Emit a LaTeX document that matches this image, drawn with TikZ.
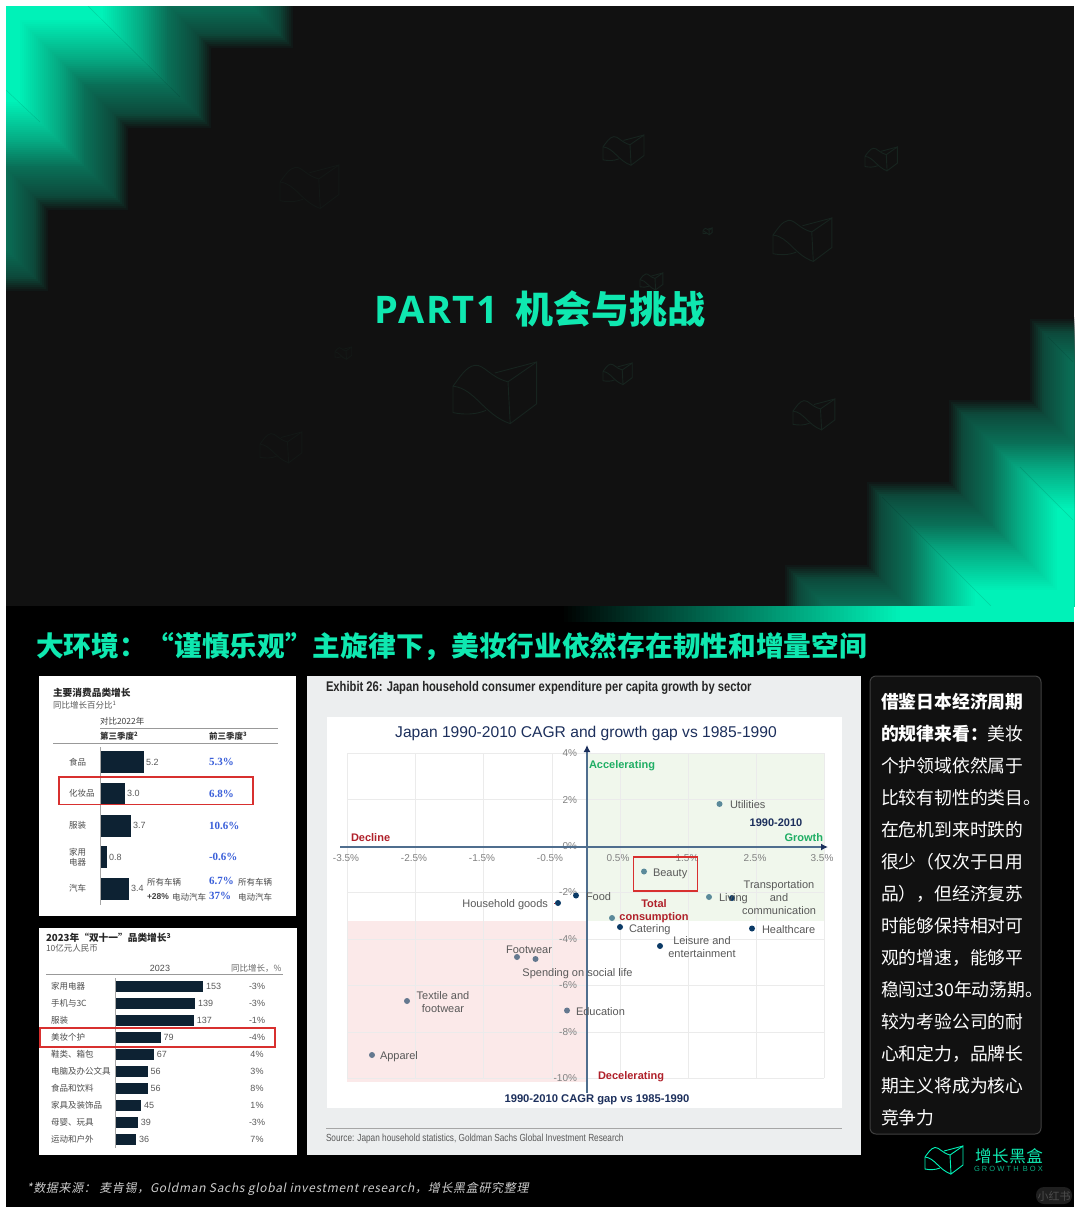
\documentclass[tikz,border=0pt]{standalone}
\usepackage{fontspec}
\usepackage{xcolor}
\setmainfont{Liberation Sans}
\setsansfont{Open Sans}
\newfontfamily\cjk{Noto Sans CJK SC}
\newfontfamily\cjkslant[FakeSlant=0.2,LetterSpace=5.6]{Noto Sans CJK SC}
\newfontfamily\narrowfont[FakeStretch=0.8]{Liberation Sans}
\newfontfamily\pctfont{Liberation Serif}
\usetikzlibrary{positioning,arrows.meta}
\newcommand{\fs}[1]{\fontsize{#1}{#1}\selectfont}
\definecolor{panel}{HTML}{111111}
\definecolor{mint}{HTML}{00F2B8}
\definecolor{titlemint}{HTML}{0FE8B0}
\definecolor{barnavy}{HTML}{0D2233}
\definecolor{pctblue}{HTML}{3A5FD9}
\definecolor{boxred}{HTML}{D8302F}
\definecolor{axisblue}{HTML}{4F6E8E}
\definecolor{plotnavy}{HTML}{1C2F5C}
\definecolor{dropred}{HTML}{B0202A}
\definecolor{risegreen}{HTML}{1FAE64}
\definecolor{wmdim}{HTML}{17241F}
\definecolor{wmfaint}{HTML}{131816}
\definecolor{dotnavy}{HTML}{0B3A66}
\definecolor{dotgreen}{HTML}{5B8A9A}
\definecolor{dotgrey}{HTML}{64788F}
\definecolor{greypanel}{HTML}{ECEEEF}
\definecolor{risefill}{HTML}{F0F7EC}
\definecolor{dropfill}{HTML}{FBE9E9}
\newcommand{\boxlogo}[4]{%
  \begin{scope}[shift={(#1,#2)},scale=#3,draw=#4,line width=.9pt]
    \draw (25,9) -- (38,0) -- (38,19) -- (26,28) -- cycle;
    \draw (0,11) .. controls (3,7) and (6,2) .. (10,1.5) .. controls (14,1) and (17,7) .. (25,9);
    \draw (19,5) -- (38,0);
    \draw (0,11) .. controls (10,12) and (14,24) .. (26,28);
    \draw (0,11) -- (0,23) .. controls (5,24) and (10,24) .. (15,22);
  \end{scope}}
\tikzset{
  every node/.style={inner sep=0pt,outer sep=0pt},
  declare function={glow(\t)=(\t<15)?(\t*1.67):((\t<44)?(25+(\t-15)*.59):((\t<70)?(42+(\t-44)*1.0):((\t<110)?(68+(\t-70)*.8):100)));},
  redbox/.style={draw=boxred,line width=1.1pt},
  catlabel/.style={anchor=west,text=black!70,font=\cjk\fontsize{8.5}{10.5}\selectfont},
  vallabel/.style={anchor=west,text=black!65,font=\fs{9}},
  pctlabel/.style={anchor=west,text=pctblue,font=\pctfont\bfseries\fs{11}},
  ticklabel/.style={text=black!50,font=\fs{10},text height=7pt,text depth=0pt},
  pointlabel/.style={text=black!65,font=\fontsize{11}{12.5}\selectfont,text height=8pt,text depth=0pt},
  stacklabel/.style={text=black!65,font=\fontsize{11}{12.5}\selectfont,align=center},
  boldlabel/.style={font=\bfseries\fs{11},text height=8pt,text depth=0pt},
  dotdark/.style={circle,fill=dotnavy,minimum size=6pt},
  dotteal/.style={circle,fill=dotgreen,minimum size=6pt},
  dotslate/.style={circle,fill=dotgrey,minimum size=6pt}
}
\begin{document}
\begin{tikzpicture}[x=1pt,y=-1pt]
  \useasboundingbox (0,0) rectangle (1080,1213);
  \fill[white] (0,0) rectangle (1080,1213);
  \fill[black] (6,6) rectangle (1074,1207);
  \fill[panel] (6,6) rectangle (1074,606);

  % stepped glow
  \begin{scope}
    \clip (6,6) rectangle (1074,606);
    \foreach \t in {0,2,...,112}{
      \pgfmathsetmacro\p{glow(\t)}
      \fill[mint!\p!panel,shift={(-\t,-\t)}] (-300,-300) -- (295,-300) -- (295,50) -- (213,50) -- (213,130)
        -- (130,130) -- (130,212) -- (50,212) -- (50,293) -- (-300,293) -- cycle;
      \fill[mint!\p!panel,shift={(\t,\t)}] (1400,900) -- (783,900) -- (783,563) -- (865,563) -- (865,480)
        -- (947,480) -- (947,398) -- (1028,398) -- (1028,317) -- (1400,317) -- cycle;
    }
    \foreach \ax/\ay/\bx/\by in {88/6/180/97,6/90/40/122,991/606/882/497,1048/337/1073/362,1020/467/1073/520}
      \draw[black,opacity=.12,line width=.5pt] (\ax,\ay) -- (\bx,\by);
  \end{scope}
  \foreach \bx in {560,564,...,896}{
    \pgfmathsetmacro\p{(\bx-560)/3.4}
    \fill[mint!\p!black] (\bx,606) rectangle (\bx+4.5,622);
  }
  \fill[mint] (900,606) rectangle (1074,622);

  % faint logos
  \foreach \lx/\ly/\ls/\lc in {603/135/1.08/wmdim,865/147/.85/wmdim,773/218/1.55/wmdim,703/228/.24/wmdim,640/273/.6/wmdim,603/363/.77/wmdim,793/399/1.1/wmdim,453/362/2.2/wmdim,280/165/1.55/wmfaint,260/432/1.1/wmfaint,335/347/.44/wmfaint}
    \boxlogo{\lx}{\ly}{\ls}{\lc};

  \node[text=titlemint] (parttitle) at (540,309) {\sffamily\bfseries\fs{38}\addfontfeature{LetterSpace=4}PART1\hspace{17pt}\cjk\bfseries\fs{38}机会与挑战};
  \node[anchor=west,text=titlemint] (subtitle) at (36,647) {\cjk\bfseries\fs{27.7}大环境：“谨慎乐观”主旋律下，美妆行业依然存在韧性和增量空间};

  % left chart, top
  \fill[white] (39,676) rectangle (296,916);
  \node[anchor=west,font=\cjk\bfseries\fs{9.7},text=black!85] (atitle) at (53,692.5) {主要消费品类增长};
  \node[anchor=west,font=\cjk\fs{8.5},text=black!65] (asub) at (53,705) {同比增长百分比\textsuperscript{1}};
  \node[anchor=west,font=\cjk\fs{8.5},text=black!75] (acompare) at (100,721) {对比2022年};
  \draw[black!40,line width=.8pt] (100,728) -- (278,728);
  \node[anchor=west,font=\cjk\bfseries\fs{8.5},text=black!80] (aqthree) at (100,736) {第三季度\textsuperscript{2}};
  \node[anchor=west,font=\cjk\bfseries\fs{8.5},text=black!80] (aqfirst) at (209,736) {前三季度\textsuperscript{3}};
  \draw[black!40,line width=.8pt] (53,743) -- (278,743);
  \foreach \rownum/\rowname/\ypos/\barend/\rowval in {1/食品/762/144/5.2,2/化妆品/793.5/125/3.0,3/服装/825.5/131/3.7,4/{家用\\电器}/857/107/0.8,5/汽车/888.5/129/3.4}{
    \fill[barnavy] (100,\ypos-11) rectangle (\barend,\ypos+11);
    \node[catlabel,align=left] (acat\rownum) at (69,\ypos) {\rowname};
    \node[vallabel] (aval\rownum) at (\barend+2,\ypos) {\rowval};
  }
  \foreach \rownum/\ypos/\rowpct in {1/762/5.3,2/793.5/6.8,3/825.5/10.6,4/857/-0.6,5/881/6.7,6/896/37}
    \node[pctlabel] (apct\rownum) at (209,\ypos) {\rowpct\%};
  \draw[black!35,line width=1pt] (100,747) -- (100,905);
  \node[catlabel] (aallone) at (147,882) {所有车辆};
  \node[catlabel] (aalltwo) at (238,882) {所有车辆};
  \node[anchor=west,font=\bfseries\fs{8.5},text=black!75] (aplus) at (147,897) {+28\%};
  \node[catlabel] (aevone) at (172,897) {电动汽车};
  \node[catlabel] (aevtwo) at (238,897) {电动汽车};
  \draw[redbox] (59,777) rectangle (253,804.5);

  % left chart, bottom
  \fill[white] (39,928) rectangle (297,1155);
  \node[anchor=west,font=\cjk\bfseries\fs{9.7},text=black!85] (btitle) at (46,938) {2023年“双十一”品类增长\textsuperscript{3}};
  \node[anchor=west,font=\cjk\fs{8.5},text=black!65] (bsub) at (46,948.5) {10亿元人民币};
  \node[font=\fs{9},text=black!70] (byear) at (160,968) {2023};
  \node[anchor=west,font=\cjk\fs{8.5},text=black!60] (bgrowth) at (231,968) {同比增长，\%};
  \draw[black!40,line width=.8pt] (46,974.5) -- (283,974.5);
  \foreach \rownum/\rowname/\ypos/\rowval/\rowpct in {1/家用电器/986/153/-3,2/手机与3C/1003/139/-3,3/服装/1020/137/-1,4/美妆个护/1037/79/-4,5/鞋类、箱包/1054/67/4,6/电脑及办公文具/1071/56/3,7/食品和饮料/1088.5/56/8,8/家具及装饰品/1105/45/1,9/母婴、玩具/1122.5/39/-3,10/运动和户外/1139.5/36/7}{
    \fill[barnavy] (115.5,\ypos-5.5) rectangle ({115.5+\rowval*.572},\ypos+5.5);
    \node[catlabel] (bcat\rownum) at (51,\ypos) {\rowname};
    \node[vallabel] (bval\rownum) at ({118.5+\rowval*.572},\ypos) {\rowval};
    \node[font=\fs{9},text=black!65] (bpct\rownum) at (257,\ypos) {\rowpct\%};
  }
  \draw[black!35,line width=1pt] (115.5,978) -- (115.5,1148);
  \draw[redbox] (40,1028) rectangle (275,1047);

  % scatter chart
  \fill[greypanel] (307,676) rectangle (861,1155);
  \node[anchor=west,text=black!85] (etitle) at (326,687.5) {\narrowfont\bfseries\fs{14}Exhibit 26: Japan household consumer expenditure per capita growth by sector};
  \fill[white] (327,717) rectangle (842,1108);
  \fill[risefill] (587,753) rectangle (824,921);
  \fill[dropfill] (347,921) rectangle (587,1082);
  \foreach \gx in {347,415,483,552,620,688,756,824}
    \draw[black!8,line width=.8pt] (\gx,753) -- (\gx,1078);
  \foreach \gy in {753,799.5,846,892.5,939,985.5,1032,1078}
    \draw[black!8,line width=.8pt] (347,\gy) -- (824,\gy);
  \node[text=plotnavy,font=\fs{15.6}] (ctitle) at (586,733.5) {Japan 1990-2010 CAGR and growth gap vs 1985-1990};
  \foreach \rownum/\tx/\tick in {1/346/-3.5,2/414/-2.5,3/482/-1.5,4/550/-0.5,5/618/0.5,6/687/1.5,7/755/2.5,8/822/3.5}
    \node[ticklabel] (xtick\rownum) at (\tx,858) {\tick\%};
  \foreach \rownum/\ty/\tick in {1/753/4,2/800/2,3/846/0,4/892/-2,5/939/-4,6/985/-6,7/1032/-8,8/1078/-10}
    \node[ticklabel,anchor=east] (ytick\rownum) at (577,\ty) {\tick\%};
  \coordinate (xstart) at (340,847);
  \coordinate (xend) at (828,847);
  \coordinate (ystart) at (587,1093);
  \coordinate (yend) at (587,745);
  \draw[axisblue,line width=1.4pt,-{Latex[color=plotnavy,length=7pt,width=7pt]}] (xstart) -- (xend);
  \draw[axisblue,line width=1.4pt,-{Latex[color=plotnavy,length=7pt,width=7pt]}] (ystart) -- (yend);

  \foreach \nm/\px/\py/\sty in {utilities/719.5/804/dotteal,beauty/644/871.5/dotteal,food/576/895.5/dotdark,household/558/903/dotdark,total/612/918/dotteal,catering/620/927/dotdark,living/709/897/dotteal,transport/732/898/dotdark,healthcare/752/928.5/dotdark,leisure/660/946/dotdark,footwear/517/957/dotslate,social/535.5/959/dotslate,textile/407/1001/dotslate,education/567/1010.5/dotslate,apparel/372/1055/dotslate}
    \node[\sty] (\nm) at (\px,\py) {};
  \foreach \nm/\px/\py/\txt in {utilities/730/804/Utilities,beauty/653/872/Beauty,food/586/896/Food,catering/629/928/Catering,living/719/897/Living,healthcare/762/929/Healthcare,education/576/1011/Education,apparel/380/1055/Apparel}
    \node[pointlabel,anchor=west] (\nm label) at (\px,\py) {\txt};
  \node[pointlabel,anchor=east] (household label) at (548,903) {Household goods};
  \draw[dropred,line width=.8pt,shorten <=6pt] (household label) -- (household);
  \node[stacklabel,font=\fontsize{11}{13}\selectfont] (transport label) at (779,898) {Transportation\\and\\communication};
  \node[stacklabel] (leisure label) at (702,947) {Leisure and\\entertainment};
  \node[pointlabel] (footwear label) at (529,949) {Footwear};
  \node[pointlabel] (social label) at (577.5,972) {Spending on social life};
  \node[stacklabel] (textile label) at (443,1002) {Textile and\\footwear};
  \draw[redbox] (633.5,857) rectangle (697.5,891);

  \node[boldlabel,anchor=west,text=risegreen] (accel) at (589,764) {Accelerating};
  \node[boldlabel,anchor=east,text=risegreen] (growth) at (823,837) {Growth};
  \node[boldlabel,anchor=west,text=dropred] (decline) at (351,837) {Decline};
  \node[boldlabel,anchor=west,text=dropred] (decel) at (598,1075) {Decelerating};
  \node[text=dropred,font=\bfseries\fontsize{11}{13}\selectfont,align=center] (totalcons) at (654,911.5) {Total\\consumption};
  \node[boldlabel,text=plotnavy] (gyears) at (776,822) {1990-2010};
  \node[boldlabel,text=plotnavy] (xcaption) at (597,1098) {\fs{11.2}1990-2010 CAGR gap vs 1985-1990};
  \draw[black!35,line width=.8pt] (326,1128) -- (842,1128);
  \node[anchor=west,text=black!65] (source) at (326,1139) {\narrowfont\fs{10.3}Source: Japan household statistics, Goldman Sachs Global Investment Research};

  % side note
  \draw[black!75,fill=panel,line width=1pt,rounded corners=6pt] (870,676) rectangle (1041,1134);
  \node[anchor=north west,text=white,align=left,font=\cjk\fontsize{17.8}{32}\selectfont] (sidenote) at (881,693) {%
    \textbf{借鉴日本经济周期}\\
    \textbf{的规律来看：}美妆\\
    个护领域依然属于\\
    比较有韧性的类目。\\
    在危机到来时跌的\\
    很少（仅次于日用\\
    品），但经济复苏\\
    时能够保持相对可\\
    观的增速，能够平\\
    稳闯过30年动荡期。\\
    较为考验公司的耐\\
    心和定力，品牌长\\
    期主义将成为核心\\
    竞争力};

  % brand and footnote
  \boxlogo{925}{1146}{1}{mint}
  \node[anchor=west,text=titlemint] (brand) at (975,1156) {\cjk\fs{16.5}\addfontfeature{LetterSpace=4}增长黑盒};
  \node[anchor=west,text=titlemint!75!black] (brandlatin) at (974,1169) {\fs{7.5}\addfontfeature{LetterSpace=28}GROWTH BOX};
  \node[anchor=west,text=black!20] (footnote) at (27,1189) {\cjkslant\fs{12}*数据来源： 麦肯锡，Goldman Sachs global investment research，增长黑盒研究整理};
  \fill[black!88,rounded corners=8pt] (1036,1187) rectangle (1072,1204);
  \node[text=black!70,font=\cjk\fs{11}] (stamp) at (1054,1196) {小红书};
\end{tikzpicture}
\end{document}
